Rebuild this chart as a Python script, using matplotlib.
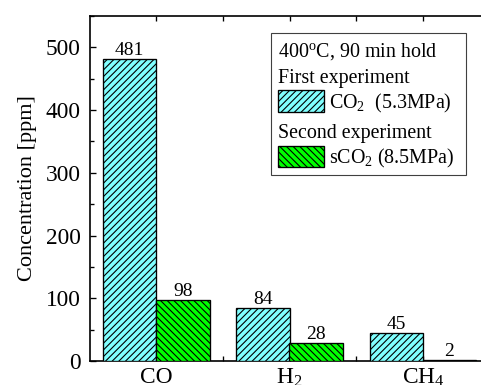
import matplotlib
matplotlib.use("Agg")
import matplotlib.pyplot as plt
from matplotlib.patches import Rectangle
from matplotlib.ticker import MultipleLocator, FixedLocator
import numpy as np

categories = ["CO", r"$\mathregular{H_2}$", r"$\mathregular{CH_4}$"]
first_exp = [481, 84, 45]
second_exp = [98, 28, 2]

plt.rcParams['font.family'] = ['Liberation Serif', 'DejaVu Serif']
plt.rcParams['mathtext.fontset'] = 'custom'
plt.rcParams['mathtext.rm'] = 'Liberation Serif'
plt.rcParams['mathtext.it'] = 'Liberation Serif:italic'
plt.rcParams['hatch.linewidth'] = 1.0

DPI = 80
W, H = 481, 385
fig = plt.figure(figsize=(W / DPI, H / DPI), dpi=DPI)
ax = fig.add_axes([89.5 / W, (H - 361) / H, 400 / W, (361 - 16) / H])

x = np.arange(len(categories))
bw = 0.4
cyan = '#80FFFF'
green = '#00FF00'
hatch1 = '////'
hatch2 = '\\\\\\\\'
b1 = ax.bar(x - bw / 2, first_exp, bw, color=cyan, edgecolor='black', hatch=hatch1, linewidth=1.2, zorder=3)
b2 = ax.bar(x + bw / 2, second_exp, bw, color=green, edgecolor='black', hatch=hatch2, linewidth=1.2, zorder=3)

for xi, v in zip(x - bw / 2, first_exp):
    ax.annotate(str(v), (xi, v), xytext=(0, 3.6), textcoords='offset points',
                ha='center', va='baseline', fontsize=17.5)
for xi, v in zip(x + bw / 2, second_exp):
    ax.annotate(str(v), (xi, v), xytext=(0, 3.6), textcoords='offset points',
                ha='center', va='baseline', fontsize=17.5)

ax.set_xlim(-0.5, 2.5)
ax.set_ylim(0, 550)
ax.set_xticks(x)
ax.set_xticklabels(categories, fontsize=21)
ax.xaxis.set_minor_locator(FixedLocator([0.5, 1.5]))
ax.yaxis.set_major_locator(FixedLocator([0, 100, 200, 300, 400, 500]))
ax.yaxis.set_minor_locator(MultipleLocator(50))
ax.tick_params(axis='x', which='both', direction='in', top=True, bottom=True, length=4.5, width=1.2, pad=5)
ax.tick_params(axis='y', which='major', direction='in', left=True, right=True, length=5.4, width=1.2, pad=8, labelsize=21)
ax.tick_params(axis='y', which='minor', direction='in', left=True, right=True, length=3.5, width=1.2)
for s in ax.spines.values():
    s.set_linewidth(1.5)
ax.set_ylabel("Concentration [ppm]", fontsize=20, labelpad=8)

# legend box (figure pixel coords)
def fx(px):
    return px / W

def fy(py):
    return 1 - py / H

tr = fig.transFigure
fig.add_artist(Rectangle((fx(271), fy(175)), fx(466) - fx(271), fy(33) - fy(175),
                         transform=tr, facecolor='white', edgecolor='#404040', linewidth=1.0, zorder=5))
lfs = 18
fig.text(fx(278), fy(57), r"400$\mathregular{^o}$C, 90 min hold", transform=tr, fontsize=lfs, va='baseline', ha='left', zorder=6)
fig.text(fx(278), fy(83), "First experiment", transform=tr, fontsize=lfs, va='baseline', ha='left', zorder=6)
fig.add_artist(Rectangle((fx(278), fy(112)), fx(324) - fx(278), fy(90) - fy(112), transform=tr,
                         facecolor=cyan, edgecolor='black', hatch=hatch1, linewidth=1.2, zorder=6))
fig.text(fx(329), fy(108), r"$\mathregular{CO_2}$  (5.3MPa)", transform=tr, fontsize=lfs, va='baseline', ha='left', zorder=6)
fig.text(fx(278), fy(138), "Second experiment", transform=tr, fontsize=lfs, va='baseline', ha='left', zorder=6)
fig.add_artist(Rectangle((fx(278), fy(167)), fx(324) - fx(278), fy(146) - fy(167), transform=tr,
                         facecolor=green, edgecolor='black', hatch=hatch2, linewidth=1.2, zorder=6))
fig.text(fx(329), fy(163), r"s$\mathregular{CO_2}$ (8.5MPa)", transform=tr, fontsize=lfs, va='baseline', ha='left', zorder=6)

fig.savefig("out.png", dpi=DPI)
